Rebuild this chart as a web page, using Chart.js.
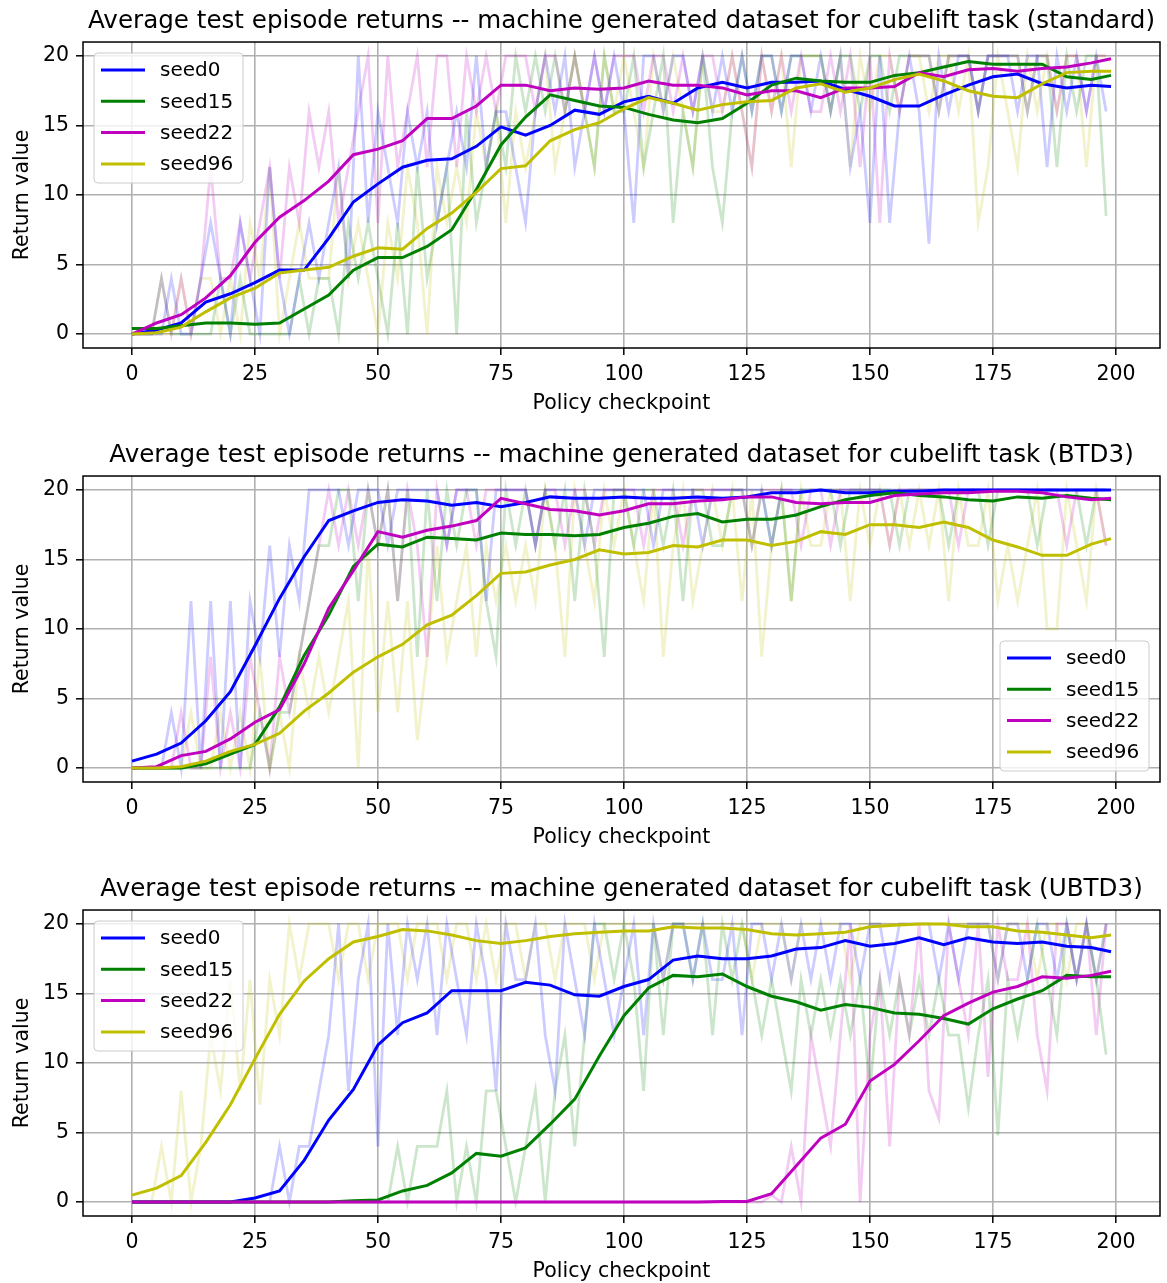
<!DOCTYPE html>
<html>
<head>
<meta charset="utf-8">
<script src="https://cdn.jsdelivr.net/npm/chart.js@4.4.1/dist/chart.umd.min.js"></script>
<style>
	html, body { margin: 0; padding: 0; background: #fff; overflow: hidden; }
	#page { position: relative; width: 1167px; height: 1283px; }
	#page canvas { position: absolute; left: 0; }
</style>
</head>
<body>
<div id="page">
	<canvas id="chart-standard" width="1167" height="416" style="top:0px"></canvas>
	<canvas id="chart-btd3" width="1167" height="416" style="top:434px"></canvas>
	<canvas id="chart-ubtd3" width="1167" height="416" style="top:868px"></canvas>
</div>
<script>
//------------------------------------------------------------
// Data
//------------------------------------------------------------
const SEEDS = ["seed0", "seed15", "seed22", "seed96"];
const X_TICKS = [0, 25, 50, 75, 100, 125, 150, 175, 200];
const Y_TICKS = [0, 5, 10, 15, 20];

// smoothed curves are read every 5 checkpoints
const CHECKPOINTS_SMOOTH = [0, 5, 10, 15, 20, 25, 30, 35, 40, 45, 50, 55, 60, 65, 70, 75, 80, 85, 90, 95, 100, 105, 110, 115, 120, 125, 130, 135, 140, 145, 150, 155, 160, 165, 170, 175, 180, 185, 190, 195, 199];
// raw (faint) returns are read every 2 checkpoints
const CHECKPOINTS_RAW = [0, 2, 4, 6, 8, 10, 12, 14, 16, 18, 20, 22, 24, 26, 28, 30, 32, 34, 36, 38, 40, 42, 44, 46, 48, 50, 52, 54, 56, 58, 60, 62, 64, 66, 68, 70, 72, 74, 76, 78, 80, 82, 84, 86, 88, 90, 92, 94, 96, 98, 100, 102, 104, 106, 108, 110, 112, 114, 116, 118, 120, 122, 124, 126, 128, 130, 132, 134, 136, 138, 140, 142, 144, 146, 148, 150, 152, 154, 156, 158, 160, 162, 164, 166, 168, 170, 172, 174, 176, 178, 180, 182, 184, 186, 188, 190, 192, 194, 196, 198];

// --- standard ---
const STD_SEED0 = [0.0, 0.3, 0.8, 2.3, 2.9, 3.7, 4.6, 4.6, 6.9, 9.5, 10.8, 12.0, 12.5, 12.6, 13.5, 14.9, 14.3, 15.0, 16.1, 15.8, 16.7, 17.1, 16.6, 17.7, 18.1, 17.7, 18.1, 18.1, 18.2, 17.6, 17.1, 16.4, 16.4, 17.2, 17.9, 18.5, 18.7, 18.0, 17.7, 17.9, 17.8];
const STD_SEED15 = [0.4, 0.4, 0.6, 0.8, 0.8, 0.7, 0.8, 1.8, 2.8, 4.6, 5.5, 5.5, 6.3, 7.5, 10.4, 13.6, 15.6, 17.2, 16.8, 16.4, 16.3, 15.8, 15.4, 15.2, 15.5, 16.6, 17.9, 18.4, 18.2, 18.1, 18.1, 18.6, 18.8, 19.2, 19.6, 19.4, 19.4, 19.4, 18.5, 18.3, 18.6];
const STD_SEED22 = [0.0, 0.8, 1.4, 2.6, 4.2, 6.6, 8.4, 9.6, 11.0, 12.9, 13.3, 13.9, 15.5, 15.5, 16.4, 17.9, 17.9, 17.5, 17.7, 17.6, 17.7, 18.2, 17.9, 17.9, 17.7, 17.2, 17.5, 17.5, 17.0, 17.7, 17.7, 17.8, 18.8, 18.5, 19.0, 19.1, 18.9, 19.1, 19.2, 19.5, 19.8];
const STD_SEED96 = [0.0, 0.1, 0.5, 1.6, 2.6, 3.3, 4.4, 4.6, 4.8, 5.6, 6.2, 6.1, 7.6, 8.7, 10.2, 11.9, 12.1, 13.9, 14.7, 15.2, 16.2, 17.0, 16.6, 16.1, 16.5, 16.7, 16.8, 17.7, 18.0, 17.4, 17.7, 18.3, 18.7, 18.2, 17.5, 17.1, 17.0, 18.0, 18.8, 18.9, 18.9];
const STD_SEED0_RAW = [0, 0, 0, 0, 4, 0, 0, 4, 8, 4, 0, 8, 4, 0, 12, 4, 0, 4, 8, 4, 8, 12, 4, 20, 8, 16, 12, 8, 16, 12, 16, 8, 12, 16, 12, 20, 12, 16, 16, 12, 8, 16, 20, 16, 20, 12, 16, 20, 16, 20, 16, 8, 20, 20, 16, 20, 20, 16, 20, 16, 20, 16, 20, 16, 20, 20, 16, 20, 20, 16, 20, 16, 20, 12, 16, 8, 20, 8, 16, 20, 16, 6.5, 20, 16, 20, 20, 16, 20, 20, 20, 16, 20, 20, 12, 20, 16, 20, 16, 20, 16];
const STD_SEED15_RAW = [0, 0, 0, 4, 0, 0, 0, 0, 0, 4, 0, 4, 0, 0, 0, 0, 0, 4, 0, 4, 4, 0, 8, 4, 8, 4, 0, 8, 0, 12, 4, 8, 12, 0, 16, 8, 12, 16, 12, 20, 16, 20, 16, 20, 16, 20, 16, 12, 20, 16, 16, 20, 12, 16, 20, 8, 16, 12, 20, 12, 8, 16, 20, 16, 20, 20, 16, 20, 20, 20, 20, 16, 20, 20, 16, 20, 20, 16, 20, 20, 20, 20, 16, 20, 20, 20, 16, 20, 20, 20, 20, 16, 20, 20, 12, 20, 16, 20, 20, 8.5];
const STD_SEED22_RAW = [0, 0, 0, 4, 0, 4, 0, 4, 12, 4, 4, 8, 4, 8, 12, 4, 12, 8, 16, 12, 16, 8, 12, 16, 20, 8, 20, 12, 16, 20, 12, 20, 20, 12, 20, 16, 20, 16, 20, 20, 20, 16, 20, 20, 16, 20, 16, 20, 16, 20, 20, 20, 16, 20, 20, 16, 20, 16, 20, 20, 16, 20, 16, 12, 20, 16, 20, 16, 20, 16, 16, 20, 16, 20, 12, 20, 8, 20, 16, 20, 20, 20, 16, 20, 20, 20, 16, 20, 20, 20, 20, 16, 20, 20, 16, 20, 20, 16, 20, 20];
const STD_SEED96_RAW = [0, 0, 0, 0, 0, 4, 0, 4, 4, 0, 4, 0, 8, 4, 12, 0, 4, 8, 4, 4, 4, 12, 4, 8, 4, 0, 8, 4, 12, 8, 0, 12, 8, 12, 8, 16, 12, 16, 8, 16, 12, 16, 20, 12, 16, 20, 16, 12, 20, 16, 20, 16, 12, 20, 16, 20, 16, 12, 20, 16, 16, 20, 16, 12, 20, 16, 20, 12, 20, 20, 20, 16, 20, 12, 20, 16, 20, 20, 16, 20, 20, 16, 20, 20, 16, 20, 8, 12, 20, 16, 12, 20, 16, 20, 16, 20, 20, 12, 20, 20];

// --- BTD3 ---
const BTD3_SEED0 = [0.5, 1.0, 1.8, 3.4, 5.5, 8.8, 12.2, 15.2, 17.8, 18.5, 19.1, 19.3, 19.2, 18.9, 19.1, 18.8, 19.1, 19.5, 19.4, 19.4, 19.5, 19.4, 19.4, 19.5, 19.4, 19.5, 19.8, 19.8, 20.0, 19.8, 19.8, 19.9, 19.9, 20.0, 20.0, 20.0, 20.0, 20.0, 20.0, 20.0, 20.0];
const BTD3_SEED15 = [0.0, 0.0, 0.0, 0.3, 1.0, 1.7, 4.4, 8.1, 11.0, 14.5, 16.1, 15.9, 16.6, 16.5, 16.4, 16.9, 16.8, 16.8, 16.7, 16.8, 17.3, 17.6, 18.1, 18.3, 17.7, 17.9, 17.9, 18.2, 18.8, 19.3, 19.6, 19.8, 19.6, 19.5, 19.3, 19.2, 19.5, 19.4, 19.6, 19.4, 19.3];
const BTD3_SEED22 = [0.0, 0.1, 0.9, 1.2, 2.1, 3.3, 4.2, 7.5, 11.5, 14.2, 17.0, 16.6, 17.1, 17.4, 17.8, 19.4, 19.0, 18.6, 18.5, 18.2, 18.5, 19.0, 19.0, 19.2, 19.3, 19.5, 19.5, 19.1, 19.0, 19.1, 19.1, 19.6, 19.7, 19.8, 19.8, 19.9, 19.9, 19.8, 19.5, 19.3, 19.4];
const BTD3_SEED96 = [0.0, 0.0, 0.1, 0.5, 1.2, 1.7, 2.5, 4.1, 5.4, 6.9, 8.0, 8.9, 10.3, 11.0, 12.4, 14.0, 14.1, 14.6, 15.0, 15.7, 15.4, 15.5, 16.0, 15.9, 16.4, 16.4, 16.0, 16.3, 17.0, 16.8, 17.5, 17.5, 17.3, 17.7, 17.3, 16.4, 15.9, 15.3, 15.3, 16.1, 16.5];
const BTD3_SEED0_RAW = [0, 0, 0, 0, 4, 0, 12, 0, 12, 0, 12, 0, 12, 8, 16, 8, 16, 12, 20, 20, 20, 20, 16, 20, 20, 20, 16, 20, 20, 20, 20, 20, 16, 20, 20, 20, 12, 20, 20, 20, 20, 16, 20, 20, 20, 20, 16, 20, 20, 20, 20, 20, 20, 16, 20, 20, 20, 20, 16, 20, 20, 20, 20, 20, 20, 16, 20, 20, 20, 20, 20, 20, 20, 20, 20, 20, 20, 20, 20, 20, 20, 20, 20, 20, 20, 20, 20, 20, 20, 20, 20, 20, 20, 20, 20, 20, 20, 20, 20, 20];
const BTD3_SEED15_RAW = [0, 0, 0, 0, 0, 0, 0, 0, 0, 0, 0, 0, 0, 4, 0, 4, 4, 8, 12, 16, 16, 20, 20, 12, 20, 16, 20, 12, 20, 8, 20, 12, 20, 16, 20, 20, 12, 8, 20, 16, 20, 16, 20, 16, 20, 12, 20, 16, 8, 20, 20, 16, 20, 20, 16, 20, 12, 20, 20, 16, 16, 20, 20, 16, 20, 16, 20, 12, 20, 20, 20, 20, 16, 20, 20, 20, 20, 20, 16, 20, 20, 20, 20, 16, 20, 20, 20, 16, 20, 20, 20, 20, 16, 20, 20, 20, 20, 16, 20, 20];
const BTD3_SEED22_RAW = [0, 0, 0, 0, 0, 4, 0, 0, 8, 0, 4, 0, 8, 4, 0, 8, 4, 8, 12, 16, 20, 16, 20, 16, 20, 16, 20, 12, 20, 16, 8, 20, 16, 20, 20, 16, 20, 20, 20, 20, 20, 16, 20, 20, 16, 20, 20, 16, 20, 20, 20, 20, 16, 20, 20, 20, 16, 20, 20, 20, 20, 20, 20, 16, 20, 20, 20, 20, 16, 20, 20, 16, 20, 20, 20, 20, 20, 16, 20, 20, 20, 20, 20, 20, 16, 20, 20, 20, 20, 20, 20, 20, 20, 20, 20, 16, 20, 20, 20, 16];
const BTD3_SEED96_RAW = [0, 0, 0, 0, 0, 0, 4, 0, 0, 4, 0, 4, 0, 8, 0, 4, 0, 8, 4, 8, 4, 8, 12, 0, 16, 4, 12, 4, 12, 2, 8, 16, 8, 12, 16, 8, 16, 12, 16, 12, 16, 12, 20, 16, 8, 20, 16, 12, 20, 16, 20, 16, 12, 20, 8, 16, 20, 12, 16, 20, 16, 20, 12, 20, 8, 16, 20, 12, 20, 16, 16, 20, 20, 12, 20, 16, 20, 16, 20, 16, 20, 16, 20, 12, 20, 16, 16, 20, 12, 16, 12, 16, 20, 10, 10, 20, 16, 12, 20, 16];

// --- UBTD3 ---
const UBTD3_SEED0 = [0.0, 0.0, 0.0, 0.0, 0.0, 0.3, 0.8, 3.0, 5.9, 8.1, 11.3, 12.9, 13.6, 15.2, 15.2, 15.2, 15.8, 15.6, 14.9, 14.8, 15.5, 16.0, 17.4, 17.7, 17.5, 17.5, 17.7, 18.2, 18.3, 18.8, 18.4, 18.6, 19.0, 18.5, 19.0, 18.7, 18.6, 18.7, 18.4, 18.3, 18.0];
const UBTD3_SEED15 = [0.0, 0.0, 0.0, 0.0, 0.0, 0.0, 0.0, 0.0, 0.0, 0.1, 0.15, 0.8, 1.2, 2.1, 3.5, 3.3, 3.9, 5.6, 7.4, 10.5, 13.4, 15.4, 16.3, 16.2, 16.4, 15.5, 14.8, 14.4, 13.8, 14.2, 14.0, 13.6, 13.5, 13.2, 12.8, 13.9, 14.6, 15.2, 16.3, 16.2, 16.2];
const UBTD3_SEED22 = [0.0, 0.0, 0.0, 0.0, 0.0, 0.0, 0.0, 0.0, 0.0, 0.0, 0.0, 0.0, 0.0, 0.0, 0.0, 0.0, 0.0, 0.0, 0.0, 0.0, 0.0, 0.0, 0.0, 0.0, 0.05, 0.05, 0.6, 2.6, 4.6, 5.6, 8.7, 9.9, 11.6, 13.4, 14.3, 15.1, 15.5, 16.2, 16.1, 16.3, 16.6];
const UBTD3_SEED96 = [0.5, 1.0, 1.9, 4.3, 7.0, 10.3, 13.5, 15.9, 17.5, 18.7, 19.1, 19.6, 19.5, 19.2, 18.8, 18.6, 18.8, 19.1, 19.3, 19.4, 19.5, 19.5, 19.8, 19.7, 19.7, 19.6, 19.3, 19.2, 19.3, 19.4, 19.8, 19.9, 20.0, 20.0, 19.8, 19.8, 19.5, 19.4, 19.2, 19.0, 19.2];
const UBTD3_SEED0_RAW = [0, 0, 0, 0, 0, 0, 0, 0, 0, 0, 0, 0, 0, 0, 0, 4, 0, 4, 4, 8, 12, 20, 8, 16, 20, 4, 20, 12, 20, 16, 20, 12, 20, 16, 12, 20, 16, 8, 20, 16, 16, 20, 12, 8, 20, 16, 12, 20, 16, 12, 16, 20, 12, 20, 16, 20, 20, 16, 20, 16, 16, 20, 12, 20, 20, 16, 20, 16, 20, 16, 20, 16, 20, 20, 16, 20, 20, 16, 20, 20, 20, 20, 16, 20, 16, 20, 20, 20, 16, 20, 20, 16, 20, 20, 16, 20, 16, 20, 16, 20];
const UBTD3_SEED15_RAW = [0, 0, 0, 0, 0, 0, 0, 0, 0, 0, 0, 0, 0, 0, 0, 0, 0, 0, 0, 0, 0, 0, 0, 0, 0, 0, 0, 4, 0, 4, 4, 4, 8, 0, 4, 0, 8, 8, 4, 0, 4, 8, 0, 8, 12, 4, 12, 20, 20, 16, 20, 16, 8, 20, 12, 20, 20, 16, 20, 12, 20, 16, 20, 16, 12, 16, 12, 8, 16, 12, 16, 12, 16, 12, 16, 8, 16, 12, 16, 12, 16, 12, 16, 12, 12, 6.8, 12, 16, 4.8, 16, 12, 16, 20, 16, 12, 20, 16, 20, 16, 10.6];
const UBTD3_SEED22_RAW = [0, 0, 0, 0, 0, 0, 0, 0, 0, 0, 0, 0, 0, 0, 0, 0, 0, 0, 0, 0, 0, 0, 0, 0, 0, 0, 0, 0, 0, 0, 0, 0, 0, 0, 0, 0, 0, 0, 0, 0, 0, 0, 0, 0, 0, 0, 0, 0, 0, 0, 0, 0, 0, 0, 0, 0, 0, 0, 0, 0, 0, 0, 0, 0, 0, 0.5, 0, 4, 0, 12, 8, 4, 12, 20, 0, 12, 16, 4, 16, 12, 20, 8, 6, 20, 16, 12, 20, 9, 20, 16, 16, 20, 12, 8, 20, 20, 16, 20, 12, 20];
const UBTD3_SEED96_RAW = [0, 0, 0, 4, 0, 8, 0, 4, 12, 8, 16, 8, 16, 7, 16, 12, 20, 16, 20, 20, 20, 16, 20, 20, 16, 20, 20, 20, 16, 20, 20, 20, 16, 20, 20, 16, 20, 16, 20, 20, 16, 20, 20, 16, 20, 20, 20, 16, 20, 20, 20, 20, 20, 20, 16, 20, 20, 20, 20, 20, 20, 20, 20, 16, 20, 20, 20, 16, 20, 20, 20, 20, 20, 16, 20, 20, 20, 20, 20, 20, 20, 20, 20, 20, 20, 20, 20, 20, 16, 20, 20, 20, 16, 20, 20, 16, 20, 20, 16, 20];

//------------------------------------------------------------
// Style
//------------------------------------------------------------
const COLORS = ["#0000ff", "#008000", "#bf00bf", "#bfbf00"];
const FAINT = ["rgba(0,0,255,0.2)", "rgba(0,128,0,0.2)", "rgba(191,0,191,0.2)", "rgba(191,191,0,0.2)"];
const FONT = "'DejaVu Sans', 'Liberation Sans', sans-serif";
const LABEL_SIZE = 20.5;
Chart.defaults.font.family = FONT;
Chart.defaults.color = "#000";

const GRID = {
	color: "#b0b0b0",
	lineWidth: 1.6,
	tickColor: "#000",
	tickLength: 7,
	tickWidth: 1.5,
};

// axes frame + matplotlib-like legend box
const frameAndLegend = {
	id: "frameAndLegend",
	afterDatasetsDraw(chart, args, opts) {
		const { ctx, chartArea: a } = chart;
		ctx.save();
		ctx.strokeStyle = "#000";
		ctx.lineWidth = 1.5;
		ctx.strokeRect(a.left, a.top, a.right - a.left, a.bottom - a.top);

		const w = 149;
		const h = 130;
		const x = opts.corner === "lower right" ? a.right - 11 - w : a.left + 11;
		const y = opts.corner === "lower right" ? a.bottom - 11 - h : a.top + 11;
		ctx.beginPath();
		ctx.roundRect(x, y, w, h, 4);
		ctx.fillStyle = "rgba(255,255,255,0.8)";
		ctx.fill();
		ctx.strokeStyle = "#cccccc";
		ctx.lineWidth = 1;
		ctx.stroke();

		ctx.font = "20px " + FONT;
		ctx.textBaseline = "middle";
		SEEDS.forEach((name, i) => {
			const ry = y + 17 + i * 31.3;
			ctx.strokeStyle = COLORS[i];
			ctx.lineWidth = 3;
			ctx.beginPath();
			ctx.moveTo(x + 7, ry);
			ctx.lineTo(x + 51, ry);
			ctx.stroke();
			ctx.fillStyle = "#000";
			ctx.fillText(name, x + 66, ry + 1);
		});
		ctx.restore();
	},
};

const toPoints = (xs, ys) => xs.map((x, k) => ({ x: x, y: ys[k] }));

const makeChart = (canvasId, title, smooth, raw, corner) => {
	const datasets = [];
	SEEDS.forEach((name, i) => {
		datasets.push({
			label: name + " raw",
			data: toPoints(CHECKPOINTS_RAW, raw[i]),
			borderColor: FAINT[i],
			borderWidth: 2.8,
			pointRadius: 0,
			tension: 0,
			order: 10 + i,
		});
	});
	SEEDS.forEach((name, i) => {
		datasets.push({
			label: name,
			data: toPoints(CHECKPOINTS_SMOOTH, smooth[i]),
			borderColor: COLORS[i],
			borderWidth: 3,
			pointRadius: 0,
			tension: 0,
			order: 3 - i,
		});
	});

	return new Chart(document.getElementById(canvasId), {
		type: "line",
		data: { datasets: datasets },
		plugins: [frameAndLegend],
		options: {
			responsive: false,
			animation: false,
			events: [],
			layout: { padding: { top: 0, right: 7, bottom: 0, left: 0 } },
			plugins: {
				legend: { display: false },
				tooltip: { enabled: false },
				title: {
					display: true,
					text: title,
					fullSize: false,
					color: "#000",
					font: { size: 24.6, weight: "normal" },
					padding: { top: 7, bottom: 5.5 },
				},
				frameAndLegend: { corner: corner },
			},
			scales: {
				x: {
					type: "linear",
					min: -9.95,
					max: 208.95,
					afterBuildTicks: (axis) => {
						axis.ticks = X_TICKS.map((v) => ({ value: v }));
					},
					afterFit: (axis) => {
						axis.height = 68;
					},
					grid: { ...GRID },
					border: { display: false },
					ticks: { color: "#000", font: { size: LABEL_SIZE }, padding: 7, maxRotation: 0, autoSkip: false },
					title: {
						display: true,
						text: "Policy checkpoint",
						color: "#000",
						font: { size: LABEL_SIZE },
						padding: { top: 0, bottom: 0.5 },
					},
				},
				y: {
					type: "linear",
					min: -1,
					max: 21,
					afterBuildTicks: (axis) => {
						axis.ticks = Y_TICKS.map((v) => ({ value: v }));
					},
					afterFit: (axis) => {
						axis.width = 83;
					},
					grid: { ...GRID },
					border: { display: false },
					ticks: { color: "#000", font: { size: LABEL_SIZE }, padding: 7 },
					title: {
						display: true,
						text: "Return value",
						color: "#000",
						font: { size: LABEL_SIZE },
						padding: { top: 10.5, bottom: 0 },
					},
				},
			},
		},
	});
};

makeChart(
	"chart-standard",
	"Average test episode returns -- machine generated dataset for cubelift task (standard)",
	[STD_SEED0, STD_SEED15, STD_SEED22, STD_SEED96],
	[STD_SEED0_RAW, STD_SEED15_RAW, STD_SEED22_RAW, STD_SEED96_RAW],
	"upper left"
);
makeChart(
	"chart-btd3",
	"Average test episode returns -- machine generated dataset for cubelift task (BTD3)",
	[BTD3_SEED0, BTD3_SEED15, BTD3_SEED22, BTD3_SEED96],
	[BTD3_SEED0_RAW, BTD3_SEED15_RAW, BTD3_SEED22_RAW, BTD3_SEED96_RAW],
	"lower right"
);
makeChart(
	"chart-ubtd3",
	"Average test episode returns -- machine generated dataset for cubelift task (UBTD3)",
	[UBTD3_SEED0, UBTD3_SEED15, UBTD3_SEED22, UBTD3_SEED96],
	[UBTD3_SEED0_RAW, UBTD3_SEED15_RAW, UBTD3_SEED22_RAW, UBTD3_SEED96_RAW],
	"upper left"
);
</script>
</body>
</html>
